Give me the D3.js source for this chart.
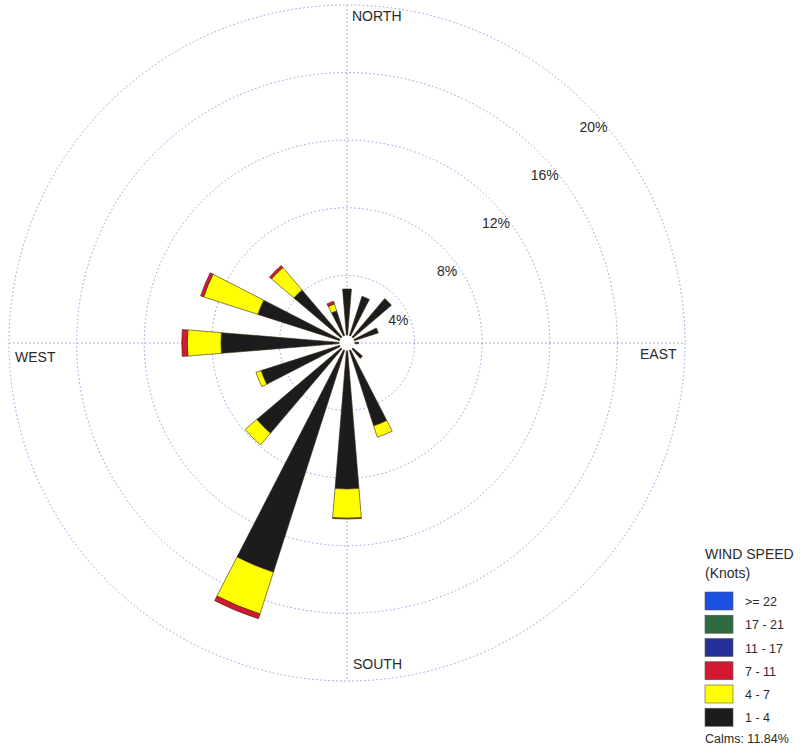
<!DOCTYPE html>
<html>
<head>
<meta charset="utf-8">
<script src="https://cdn.jsdelivr.net/npm/d3@7"></script>
<style>
  html, body { margin: 0; padding: 0; background: #ffffff; }
  svg { display: block; }
  text { font-family: "Liberation Sans", Arial, sans-serif; fill: #2a2a2a; }
</style>
</head>
<body>
<svg id="chart" width="800" height="754"></svg>
<script>
// ---- data ----
const directions = ["N","NNE","NE","ENE","E","ESE","SE","SSE","S","SSW","SW","WSW","W","WNW","NW","NNW"];
const speedClasses = ["1 - 4","4 - 7","7 - 11","11 - 17","17 - 21",">= 22"];
const classColors = ["#1c1c1c","#ffff00","#d3192f","#262f9a","#2f6a40","#1b4fe0"];
// percent frequency per direction for each speed class
const s1_4   = [3.2, 2.9, 3.45, 1.95, 0.68, 0.4, 1.2, 5.15, 8.64, 14.24, 7.0, 5.34, 7.46, 5.54, 4.12, 2.0];
const s4_7   = [0,   0,   0,    0,    0,    0,   0,   0.71, 1.73, 2.60,  0.91, 0.32, 1.99, 3.37, 1.74, 0.43];
const s7_11  = [0,   0,   0,    0,    0,    0,   0,   0,    0.05, 0.30,  0,    0,    0.33, 0.19, 0.16, 0.17];
const s11_17 = [0,0,0,0,0,0,0,0,0,0,0,0,0,0,0,0];
const s17_21 = [0,0,0,0,0,0,0,0,0,0,0,0,0,0,0,0];
const s22    = [0,0,0,0,0,0,0,0,0,0,0,0,0,0,0,0];
const ringTicks = [4, 8, 12, 16, 20];
const compassLabels = ["NORTH","EAST","SOUTH","WEST"];
const calmsText = "Calms: 11.84%";

// ---- layout ----
const svg = d3.select("#chart");
const cx = 347, cy = 343;
const holeR = 7.5;
const r = d3.scaleLinear().domain([0, 20]).range([0, 338]);
const halfW = 4.7 * Math.PI / 180;
const gridColor = "#8a90d8";

const g = svg.append("g").attr("transform", `translate(${cx},${cy})`);

// rings
g.selectAll("circle.ring").data(ringTicks).enter().append("circle")
  .attr("class", "ring")
  .attr("r", d => r(d))
  .attr("fill", "none")
  .attr("stroke", gridColor)
  .attr("stroke-width", 0.9)
  .attr("stroke-dasharray", "1.6,2.4");

// axes lines
const rMax = r(20);
g.append("line").attr("x1", 0).attr("x2", 0).attr("y1", -rMax).attr("y2", rMax)
  .attr("stroke", gridColor).attr("stroke-width", 0.9).attr("stroke-dasharray", "1.6,2.4");
g.append("line").attr("y1", 0).attr("y2", 0).attr("x1", -rMax).attr("x2", rMax)
  .attr("stroke", gridColor).attr("stroke-width", 0.9).attr("stroke-dasharray", "1.6,2.4");

// ring labels
g.selectAll("text.ringlabel").data(ringTicks).enter().append("text")
  .attr("class", "ringlabel")
  .attr("x", d => r(d) * 0.722 + 2.5)
  .attr("y", d => -r(d) * 0.714 + 30)
  .attr("text-anchor", "middle")
  .attr("font-size", 14)
  .text(d => d + "%");

// compass labels
const compassPos = [
  {x: 5, y: -322, a: "start"},
  {x: 293, y: 16, a: "start"},
  {x: 6, y: 326, a: "start"},
  {x: -332, y: 19, a: "start"}
];
g.selectAll("text.compass").data(compassLabels).enter().append("text")
  .attr("class", "compass")
  .attr("x", (d, i) => compassPos[i].x)
  .attr("y", (d, i) => compassPos[i].y)
  .attr("text-anchor", (d, i) => compassPos[i].a)
  .attr("font-size", 14)
  .text(d => d);

// stacked bars
const series = [s1_4, s4_7, s7_11, s11_17, s17_21, s22];
const segs = [];
directions.forEach((dir, i) => {
  let cum = 0;
  series.forEach((s, k) => {
    const v = s[i];
    if (v > 0) {
      const inner = Math.max(holeR, r(cum));
      const outer = r(cum + v);
      if (outer > inner) {
        segs.push({i, k, inner, outer});
      }
    }
    cum += v;
  });
});
const arc = d3.arc()
  .innerRadius(d => d.inner)
  .outerRadius(d => d.outer)
  .startAngle(d => d.i * 22.5 * Math.PI / 180 - halfW)
  .endAngle(d => d.i * 22.5 * Math.PI / 180 + halfW);
g.selectAll("path.bar").data(segs).enter().append("path")
  .attr("class", "bar")
  .attr("d", arc)
  .attr("fill", d => classColors[d.k])
  .attr("stroke", "#3a2a10")
  .attr("stroke-width", 0.6);

// calm hole
g.append("circle").attr("r", holeR).attr("fill", "#ffffff");

// legend
const lg = svg.append("g").attr("transform", "translate(705,0)");
lg.append("text").attr("x", 0).attr("y", 559).attr("font-size", 14).text("WIND SPEED");
lg.append("text").attr("x", 0).attr("y", 578).attr("font-size", 14).text("(Knots)");
const legendOrder = d3.range(speedClasses.length).reverse();
const ly = d3.scaleBand().domain(legendOrder).range([592, 731.5]);
lg.selectAll("rect.lbox").data(legendOrder).enter().append("rect")
  .attr("class", "lbox")
  .attr("x", 0).attr("y", d => ly(d))
  .attr("width", 28).attr("height", 18)
  .attr("fill", d => classColors[d])
  .attr("stroke", "#555").attr("stroke-width", 0.6);
lg.selectAll("text.llab").data(legendOrder).enter().append("text")
  .attr("class", "llab")
  .attr("x", 40).attr("y", d => ly(d) + 14)
  .attr("font-size", 12.5)
  .text(d => speedClasses[d]);
lg.append("text").attr("x", 0).attr("y", 743).attr("font-size", 12.5).text(calmsText);
</script>
</body>
</html>
